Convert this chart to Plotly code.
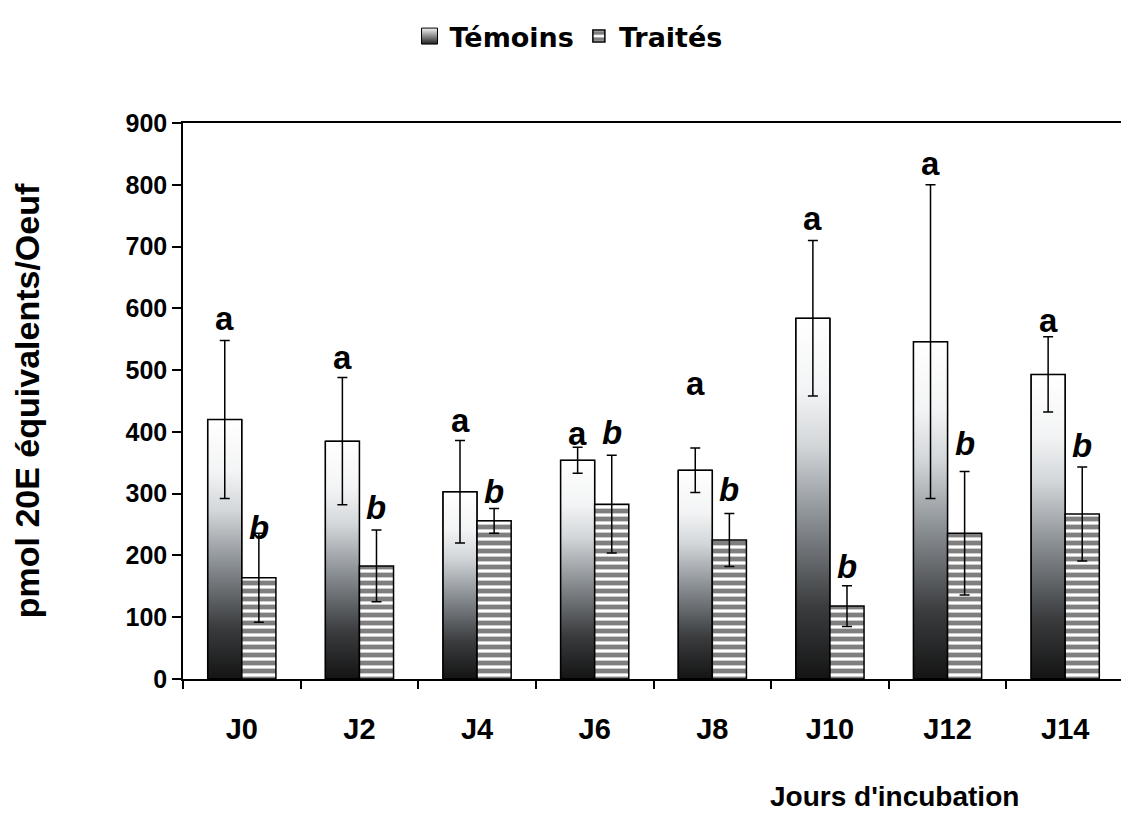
import plotly.graph_objects as go

# jours d'incubation et dosages (pmol 20E équivalents / oeuf)
jours = ['J0', 'J2', 'J4', 'J6', 'J8', 'J10', 'J12', 'J14']
temoins = [420, 385, 303, 354, 338, 584, 546, 493]
temoins_err = [128, 103, 83, 21, 36, 126, 254, 61]
traites = [164, 183, 256, 283, 225, 118, 236, 267]
traites_err = [72, 58, 20, 79, 43, 33, 100, 76]

# lettres de significativité (hauteur)
lettres_a_y = [584, 520, 418, 397, 479, 745, 835, 580]
lettres_b_y = [246, 278, 303, 399, 307, 182, 381, 378]

BARGAP = 0.42
half = (1 - BARGAP) / 2
idx = list(range(len(jours)))

# dégradé des barres "Témoins" : sombre en bas, blanc en haut
degrade = [[0, '#141414'], [0.2, '#3a3c3e'], [0.45, '#8c9196'],
           [0.65, '#d3d7da'], [0.8, '#f3f4f5'], [1, '#ffffff']]

fig = go.Figure()

# entrée de légende "Témoins" (carré dégradé)
fig.add_trace(go.Scatter(x=[None], y=[None], mode='markers', name='Témoins',
                         marker=dict(symbol='square', size=17, color='#f4f4f4',
                                     gradient=dict(type='vertical', color='#202020'),
                                     line=dict(color='black', width=1))))

for i, v in enumerate(temoins):
    x0, x1 = i - half, i
    fig.add_trace(go.Scatter(x=[x0, x0, x1, x1, x0], y=[0, v, v, 0, 0],
                             fill='toself', mode='lines',
                             line=dict(color='black', width=1),
                             fillgradient=dict(type='vertical', colorscale=degrade,
                                               start=0, stop=v),
                             name='Témoins', showlegend=False, hoverinfo='skip'))

fig.add_trace(go.Bar(x=idx, y=temoins, xaxis='x2', yaxis='y2', name='Témoins',
                     showlegend=False,
                     marker=dict(color='rgba(0,0,0,0)', line=dict(color='black', width=1.5)),
                     error_y=dict(type='data', array=temoins_err, color='black',
                                  thickness=1.5, width=5)))
fig.add_trace(go.Bar(x=idx, y=traites, xaxis='x2', yaxis='y2', name='Traités',
                     marker=dict(color='white', line=dict(color='black', width=1.5),
                                 pattern=dict(shape='-', fgcolor='black', bgcolor='white',
                                              size=8, solidity=0.6)),
                     error_y=dict(type='data', array=traites_err, color='black',
                                  thickness=1.5, width=5)))

for i in idx:
    fig.add_annotation(x=i - half / 2, y=lettres_a_y[i], text='<b>a</b>', showarrow=False,
                       font=dict(family='Liberation Sans', size=33, color='black'))
    fig.add_annotation(x=i + half / 2, y=lettres_b_y[i], text='<b><i>b</i></b>', showarrow=False,
                       font=dict(family='Liberation Sans', size=33, color='black'))

fig.add_annotation(xref='paper', yref='paper', x=0.756, y=-0.212,
                   xanchor='center', yanchor='middle',
                   text="<b>Jours d'incubation</b>", showarrow=False,
                   font=dict(family='Liberation Sans', size=28, color='black'))

fig.update_layout(
    width=1121, height=806,
    margin=dict(l=175, r=3, t=115, b=135),
    plot_bgcolor='white', paper_bgcolor='white',
    barmode='group', bargap=BARGAP, bargroupgap=0,
    font=dict(family='Liberation Sans', color='black'),
    legend=dict(orientation='h', xref='container', yref='container',
                x=0.5, xanchor='center', y=0.995, yanchor='top',
                font=dict(family='DejaVu Sans', size=27, color='black', weight='bold')),
    xaxis=dict(range=[-0.5, 7.5], tickvals=idx, ticktext=jours, ticks='',
               showline=True, linecolor='black', linewidth=1.5, mirror=True,
               showgrid=False, zeroline=False, ticklabelstandoff=23,
               tickfont=dict(family='Liberation Sans Narrow, Liberation Sans', size=29,
                             weight='bold'),
               minor=dict(tick0=-0.5, dtick=1, ticks='outside', ticklen=8,
                          tickwidth=1.5, tickcolor='black', showgrid=False)),
    yaxis=dict(range=[0, 900], dtick=100, ticks='outside', ticklen=9, tickwidth=1.5,
               tickcolor='black', showline=True, linecolor='black', linewidth=1.5,
               mirror=True, showgrid=False, zeroline=False,
               tickfont=dict(size=25, weight='bold'),
               title=dict(text='pmol 20E équivalents/Oeuf', standoff=84,
                          font=dict(size=34, weight='bold'))),
    xaxis2=dict(range=[-0.5, 7.5], overlaying='x', visible=False),
    yaxis2=dict(range=[0, 900], overlaying='y', visible=False),
)

fig.write_html("out.html")
